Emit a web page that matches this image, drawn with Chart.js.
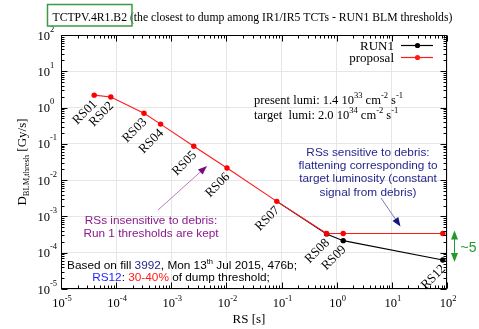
<!DOCTYPE html>
<html><head><meta charset="utf-8">
<script src="https://cdn.jsdelivr.net/npm/chart.js@4.4.1/dist/chart.umd.min.js"></script>
<style>html,body{margin:0;padding:0;background:#fff;overflow:hidden}canvas{display:block}</style>
</head><body>
<canvas id="c" width="479" height="329"></canvas>
<script>
// ---- data ----
const rsNames = ['RS01','RS02','RS03','RS04','RS05','RS06','RS07','RS08','RS09','RS12'];
const rsSeconds = [4e-5, 8e-5, 3.2e-4, 6.4e-4, 2.56e-3, 1.024e-2, 8.192e-2, 0.65536, 1.31072, 83.886];
const run1Values = [2.2, 1.95, 0.70, 0.35, 0.086, 0.0217, 0.0026, 3.3e-4, 2.15e-4, 6.3e-5];
const proposalValues = [2.2, 1.95, 0.70, 0.35, 0.086, 0.0217, 0.0026, 3.4e-4, 3.4e-4, 3.4e-4];
const seriesNames = ['RUN1', 'proposal'];
const xTickExponents = [-5, -4, -3, -2, -1, 0, 1, 2];
const yTickExponents = [-5, -4, -3, -2, -1, 0, 1, 2];

const SERIF = '"Liberation Serif", "Times New Roman", serif';
const SANS = '"Liberation Sans", Arial, sans-serif';
const RED = '#ff1a1a', BLACK = '#000000', NAVY = '#26268c', PURPLE = '#8a1a8a', GREEN = '#22992a', BLUE = '#1f1fff';

function drawParts(ctx, parts, x, y, align) {
  let total = 0;
  parts.forEach(p => { ctx.font = p.size + 'px ' + p.family; p.w = ctx.measureText(p.t).width; total += p.w; });
  let cx = align === 'center' ? x - total / 2 : align === 'right' ? x - total : x;
  ctx.textAlign = 'left'; ctx.textBaseline = 'alphabetic';
  parts.forEach(p => {
    ctx.font = p.size + 'px ' + p.family;
    ctx.fillStyle = p.color || '#000';
    ctx.fillText(p.t, cx, y + (p.dy || 0));
    cx += p.w;
  });
  return total;
}

function arrowHead(ctx, x1, y1, x2, y2, len, wid, color) {
  const a = Math.atan2(y2 - y1, x2 - x1);
  const bx = x2 - len * Math.cos(a), by = y2 - len * Math.sin(a);
  const nx = -Math.sin(a) * wid / 2, ny = Math.cos(a) * wid / 2;
  ctx.beginPath();
  ctx.moveTo(x2, y2); ctx.lineTo(bx + nx, by + ny); ctx.lineTo(bx - nx, by - ny); ctx.closePath();
  ctx.fillStyle = color; ctx.fill();
}

function arrow(ctx, x1, y1, x2, y2, lineColor, headColor, len, wid) {
  const a = Math.atan2(y2 - y1, x2 - x1);
  ctx.beginPath(); ctx.moveTo(x1, y1); ctx.lineTo(x2 - len * 0.8 * Math.cos(a), y2 - len * 0.8 * Math.sin(a));
  ctx.strokeStyle = lineColor; ctx.lineWidth = 1; ctx.stroke();
  arrowHead(ctx, x1, y1, x2, y2, len, wid, headColor);
}

const decorations = {
  id: 'decorations',
  afterDraw(chart) {
    const ctx = chart.ctx, xs = chart.scales.x, ys = chart.scales.y, ca = chart.chartArea;
    ctx.save();
    // frame
    ctx.strokeStyle = '#000'; ctx.lineWidth = 1;
    const L = Math.round(ca.left) + 0.5, R = Math.round(ca.right) - 0.5, T = Math.round(ca.top) + 0.5, B = Math.round(ca.bottom) - 0.5;
    ctx.strokeRect(L, T, R - L, B - T);
    // ticks
    ctx.beginPath();
    const lo = xTickExponents[0], hi = xTickExponents[xTickExponents.length - 1];
    for (let e = lo; e <= hi; e++) {
      for (let m = 1; m <= 9; m++) {
        if (e === hi && m > 1) break;
        const v = m * Math.pow(10, e), len = m === 1 ? 6 : 3;
        const px = Math.round(xs.getPixelForValue(v)) + 0.5;
        ctx.moveTo(px, B); ctx.lineTo(px, B - len);
        ctx.moveTo(px, T); ctx.lineTo(px, T + len);
      }
    }
    const ylo = yTickExponents[0], yhi = yTickExponents[yTickExponents.length - 1];
    for (let e = ylo; e <= yhi; e++) {
      for (let m = 1; m <= 9; m++) {
        if (e === yhi && m > 1) break;
        const v = m * Math.pow(10, e), len = m === 1 ? 6 : 3;
        const py = Math.round(ys.getPixelForValue(v)) + 0.5;
        ctx.moveTo(L, py); ctx.lineTo(L + len, py);
        ctx.moveTo(R, py); ctx.lineTo(R - len, py);
      }
    }
    ctx.stroke();
    // tick labels
    xTickExponents.forEach(e => {
      const px = xs.getPixelForValue(Math.pow(10, e));
      drawParts(ctx, [{t: '10', size: 12.5, family: SERIF}, {t: String(e), size: 8.5, family: SERIF, dy: -6}], px + 1, 307, 'center');
    });
    yTickExponents.forEach(e => {
      const py = ys.getPixelForValue(Math.pow(10, e));
      ctx.font = '12.5px ' + SERIF;
      const w = ctx.measureText('10').width;
      drawParts(ctx, [{t: '10', size: 12.5, family: SERIF}, {t: String(e), size: 8.5, family: SERIF, dy: -8}], 50 - w, py + 4.5, 'left');
    });
    // axis titles
    drawParts(ctx, [{t: 'RS [s]', size: 13, family: SERIF}], 249, 323, 'center');
    ctx.save();
    ctx.translate(26, (ca.top + ca.bottom) / 2);
    ctx.rotate(-Math.PI / 2);
    drawParts(ctx, [{t: 'D', size: 13, family: SERIF}, {t: 'BLM,thresh', size: 8.5, family: SERIF, dy: 3}, {t: ' [Gy/s]', size: 13, family: SERIF}], 0, 0, 'center');
    ctx.restore();

    // RS labels
    rsNames.forEach((n, i) => {
      const px = xs.getPixelForValue(rsSeconds[i]), py = ys.getPixelForValue(run1Values[i]);
      ctx.save();
      ctx.translate(px + 1, py + 7);
      ctx.rotate(-Math.PI / 4);
      ctx.font = '13px ' + SERIF; ctx.fillStyle = '#000';
      ctx.textAlign = 'right'; ctx.textBaseline = 'middle';
      ctx.fillText(n, 0, 0);
      ctx.restore();
    });

    // title
    const titleMain = 'TCTPV.4R1.B2';
    const titleRest = ' (the closest to dump among IR1/IR5 TCTs - RUN1 BLM thresholds)';
    ctx.font = '13px ' + SERIF;
    const fullW = ctx.measureText(titleMain + titleRest).width;
    const tSize = 13 * 400 / fullW;
    ctx.font = tSize + 'px ' + SERIF;
    const mainW = ctx.measureText(titleMain).width;
    ctx.fillStyle = '#000'; ctx.textAlign = 'left'; ctx.textBaseline = 'alphabetic';
    ctx.fillText(titleMain + titleRest, 52.5, 20.5);
    ctx.strokeStyle = '#3d9a44'; ctx.lineWidth = 1.5;
    ctx.strokeRect(47.5, 4.5, mainW + 10, 21.5);

    // legend
    const legY = [45, 57], legC = [BLACK, RED];
    seriesNames.forEach((n, i) => {
      drawParts(ctx, [{t: n, size: 13, family: SERIF}], 394, legY[i] + 4.5, 'right');
      ctx.beginPath(); ctx.moveTo(401, legY[i] + 0.5); ctx.lineTo(433, legY[i] + 0.5);
      ctx.strokeStyle = legC[i]; ctx.lineWidth = 1.2; ctx.stroke();
      ctx.beginPath(); ctx.arc(417.5, legY[i] + 0.5, 2.6, 0, Math.PI * 2); ctx.fillStyle = legC[i]; ctx.fill();
    });

    // lumi text
    drawParts(ctx, [{t: 'present lumi: 1.4 10', size: 12.5, family: SERIF}, {t: '33', size: 8.5, family: SERIF, dy: -6}, {t: ' cm', size: 12.5, family: SERIF}, {t: '-2', size: 8.5, family: SERIF, dy: -6}, {t: ' s', size: 12.5, family: SERIF}, {t: '-1', size: 8.5, family: SERIF, dy: -6}], 254, 103.5, 'left');
    drawParts(ctx, [{t: 'target  lumi: 2.0 10', size: 12.5, family: SERIF}, {t: '34', size: 8.5, family: SERIF, dy: -6}, {t: ' cm', size: 12.5, family: SERIF}, {t: '-2', size: 8.5, family: SERIF, dy: -6}, {t: ' s', size: 12.5, family: SERIF}, {t: '-1', size: 8.5, family: SERIF, dy: -6}], 254, 118.5, 'left');

    // navy annotation
    ['RSs sensitive to debris:', 'flattening corresponding to', 'target luminosity (constant', 'signal from debris)'].forEach((l, i) => {
      drawParts(ctx, [{t: l, size: 11.8, family: SANS, color: NAVY}], 368, 156 + i * 13.2, 'center');
    });
    arrow(ctx, 381, 198, 400.5, 226.5, '#7a7ab0', '#14147a', 9, 7);

    // purple annotation
    ['RSs insensitive to debris:', 'Run 1 thresholds are kept'].forEach((l, i) => {
      drawParts(ctx, [{t: l, size: 11.8, family: SANS, color: PURPLE}], 151, 223.5 + i * 13.2, 'center');
    });
    arrow(ctx, 158, 210, 207, 166, '#c07ac0', '#7a0a7a', 9, 7);

    // bottom text
    drawParts(ctx, [{t: 'Based on fill ', size: 11.8, family: SANS}, {t: '3992', size: 11.8, family: SANS, color: NAVY}, {t: ', Mon 13', size: 11.8, family: SANS}, {t: 'th', size: 7.5, family: SANS, dy: -5}, {t: ' Jul 2015, 476b;', size: 11.8, family: SANS}], 182, 268.5, 'center');
    drawParts(ctx, [{t: 'RS12', size: 11.8, family: SANS, color: BLUE}, {t: ': ', size: 11.8, family: SANS}, {t: '30-40%', size: 11.8, family: SANS, color: RED}, {t: ' of dump threshold;', size: 11.8, family: SANS}], 181, 281, 'center');

    // green double arrow
    const gx = 454.5, gTop = ys.getPixelForValue(proposalValues[proposalValues.length - 1]) - 3, gBot = ys.getPixelForValue(run1Values[run1Values.length - 1]) + 2;
    ctx.beginPath(); ctx.moveTo(gx, gTop + 6); ctx.lineTo(gx, gBot - 6);
    ctx.strokeStyle = GREEN; ctx.lineWidth = 1; ctx.stroke();
    arrowHead(ctx, gx, gBot, gx, gTop, 9, 7, GREEN);
    arrowHead(ctx, gx, gTop, gx, gBot, 9, 7, GREEN);
    drawParts(ctx, [{t: '~5', size: 14, family: SANS, color: GREEN}], 460.5, 251.5, 'left');
    ctx.restore();
  }
};

const decades = exps => exps.map(e => ({value: Math.pow(10, e)}));
const same = i => run1Values[i] === proposalValues[i];

new Chart(document.getElementById('c'), {
  type: 'scatter',
  data: {
    datasets: [
      {label: seriesNames[1], data: rsSeconds.map((x, i) => ({x, y: proposalValues[i]})), showLine: true,
       borderColor: RED, backgroundColor: '#ff0000', pointBackgroundColor: '#ff0000', pointBorderColor: '#ff0000',
       pointRadius: 2.7, pointBorderWidth: 0, borderWidth: 1.1},
      {label: seriesNames[0], data: rsSeconds.map((x, i) => ({x, y: run1Values[i]})), showLine: true,
       borderColor: BLACK, backgroundColor: BLACK, pointBackgroundColor: BLACK, pointBorderColor: BLACK,
       pointRadius: c => same(c.dataIndex) ? 0 : 2.7, pointBorderWidth: 0, borderWidth: 1.1,
       segment: {borderColor: c => (same(c.p0DataIndex) && same(c.p1DataIndex)) ? 'rgba(0,0,0,0)' : BLACK}}
    ]
  },
  options: {
    responsive: false, animation: false, devicePixelRatio: 1,
    layout: {padding: {left: 61, right: 32, top: 35, bottom: 40}},
    plugins: {legend: {display: false}, tooltip: {enabled: false}},
    scales: {
      x: {type: 'logarithmic', min: 1e-5, max: 1e2,
          afterBuildTicks: s => { s.ticks = decades(xTickExponents); },
          ticks: {display: false}, grid: {color: '#e6e6e6', drawTicks: false}, border: {display: false}},
      y: {type: 'logarithmic', min: 1e-5, max: 1e2,
          afterBuildTicks: s => { s.ticks = decades(yTickExponents); },
          ticks: {display: false}, grid: {color: '#e6e6e6', drawTicks: false}, border: {display: false}}
    }
  },
  plugins: [decorations]
});
</script>
</body></html>
